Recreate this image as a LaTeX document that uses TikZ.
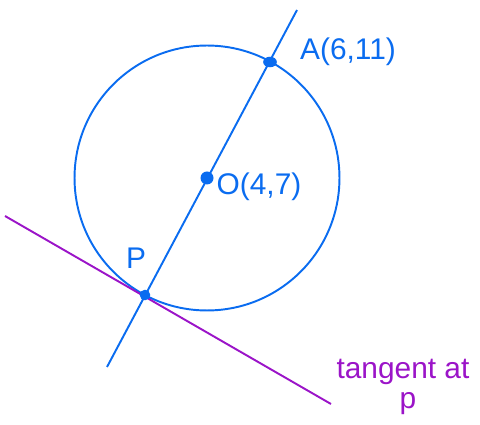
\documentclass[tikz,border=0pt]{standalone}
\usepackage{fontspec}
\setmainfont{Liberation Sans}
\usepackage{xcolor}
\definecolor{penblue}{RGB}{10,108,240}
\definecolor{penpurple}{RGB}{155,20,200}

\begin{document}
\begin{tikzpicture}[x=0.02cm,y=-0.02cm,line width=1.1pt,
  lbl/.style={font=\fontsize{17}{20}\selectfont,inner sep=0pt}]
  \useasboundingbox (0,0) rectangle (480,425);
  \coordinate (O) at (207,178);
  \coordinate (A) at (270,62);
  \coordinate (P) at (145,295);
  \coordinate (top) at (297,10);
  \coordinate (bot) at (107,367);
  \coordinate (tl) at (5,216);
  \coordinate (tr) at (331,404);
  % circle and diameter line
  \draw[penblue] (O) circle (2.65cm);
  \draw[penblue] (top) -- (bot);
  % tangent at P
  \draw[penpurple] (tl) -- (tr);
  \fill[penblue] (O) circle (3.7pt);
  \fill[penblue] (A) ellipse (3.9pt and 3pt);
  \fill[penblue] (P) circle (3pt);
  \node[lbl,text=penblue] (Alab) at (348,52) {A(6,11)};
  \node[lbl,text=penblue] (Olab) at (259,187) {O(4,7)};
  \node[lbl,text=penblue] (Plab) at (136,258) {P};
  \node[lbl,text=penpurple] (tan) at (403,372) {tangent at};
  \node[lbl,text=penpurple] (tanp) at (408,404) {p};
\end{tikzpicture}
\end{document}
